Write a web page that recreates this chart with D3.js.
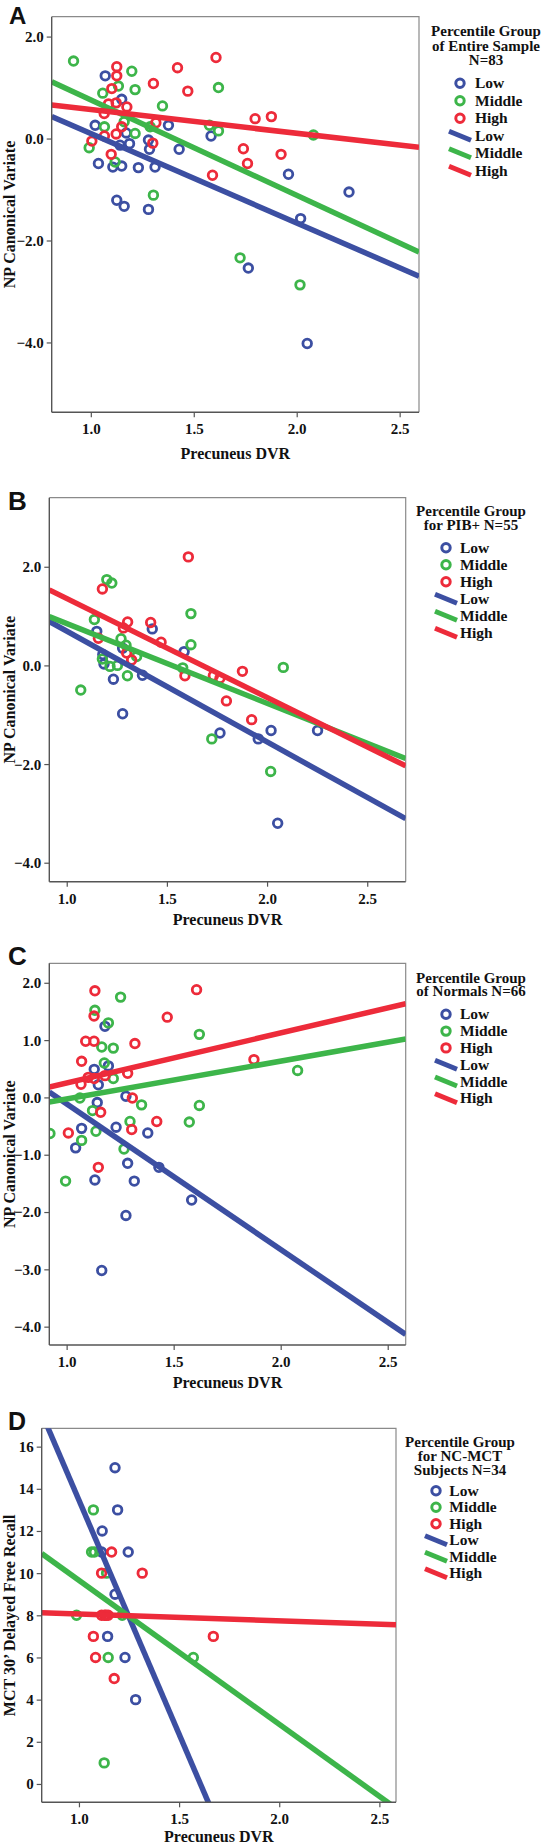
<!DOCTYPE html>
<html><head><meta charset="utf-8">
<script src="https://cdn.jsdelivr.net/npm/d3@7"></script>
<style>
body{margin:0;background:#fff}
svg{display:block}
text{font-family:"Liberation Serif",serif;font-weight:bold;fill:#111}
</style>
</head><body>
<svg id="chart" width="545" height="1846"></svg>
<script>
const groups = ["Low","Middle","High"];
const colors = ["#3c4fa2","#3db54a","#ed2b3a"];
const xTicks = [1.0,1.5,2.0,2.5];

// ---------- Panel A : Entire sample ----------
const aLow = [[1.07,1.23],[1.15,0.77],[1.021,0.26],[1.037,-0.49],[1.107,-0.56],[1.15,-0.54],[1.126,-1.21],[1.162,-1.33],[1.231,-0.57],[1.28,-1.39],[1.312,-0.56],[1.28,-0.03],[1.285,-0.21],[1.188,-0.10],[1.142,-0.13],[1.377,0.26],[1.429,-0.21],[1.584,0.05],[1.96,-0.70],[2.254,-1.05],[2.019,-1.57],[1.765,-2.54],[2.051,-4.02],[1.172,0.11]];
const aMid = [[0.916,1.52],[1.199,1.32],[1.215,0.96],[1.058,0.89],[1.134,1.03],[1.348,0.64],[1.066,0.23],[0.992,-0.18],[1.118,-0.46],[1.215,0.10],[1.162,0.33],[1.304,-1.11],[1.576,0.26],[1.62,0.15],[1.62,1.0],[2.081,0.07],[1.725,-2.34],[2.016,-2.87],[1.288,0.23]];
const aHigh = [[1.126,1.41],[1.126,1.23],[1.102,0.98],[1.304,1.08],[1.421,1.39],[1.608,1.59],[1.471,0.93],[1.086,0.68],[1.123,0.70],[1.175,0.62],[1.065,0.49],[1.15,0.23],[1.123,0.09],[1.066,0.05],[1.005,-0.05],[1.099,-0.31],[1.301,-0.09],[1.316,0.31],[1.591,-0.72],[1.741,-0.20],[1.761,-0.49],[1.798,0.39],[1.877,0.43],[1.924,-0.31]];
const aFits = [[1.851,-1.754],[2.632,-1.873],[1.033,-0.465]]; // [intercept, slope]
const aYTicks = [2,0,-2,-4];

// ---------- Panel B : PIB+ ----------
const bLow = [[1.15,0.69],[1.427,0.74],[1.586,0.28],[1.279,0.35],[1.18,0.22],[1.186,0.03],[1.233,-0.28],[1.378,-0.20],[1.279,-0.98],[1.765,-1.37],[1.956,-1.49],[2.02,-1.32],[2.252,-1.32],[2.053,-3.20]];
const bMid = [[1.2,1.74],[1.225,1.67],[1.138,0.93],[1.62,1.05],[1.62,0.42],[1.271,0.54],[1.296,0.41],[1.349,0.18],[1.178,0.13],[1.216,-0.02],[1.253,0.0],[1.303,-0.21],[1.07,-0.50],[1.579,-0.05],[2.081,-0.04],[1.724,-1.49],[2.018,-2.15]];
const bHigh = [[1.607,2.20],[1.178,1.55],[1.304,0.88],[1.419,0.87],[1.283,0.76],[1.471,0.47],[1.158,0.55],[1.299,0.25],[1.324,0.11],[1.59,-0.21],[1.732,-0.21],[1.765,-0.26],[1.877,-0.12],[1.797,-0.72],[1.923,-1.10]];
const bFits = [[2.942,-2.247],[2.466,-1.617],[3.361,-2.005]];
const bYTicks = [2,0,-2,-4];

// ---------- Panel C : Normals ----------
const cLow = [[1.179,1.24],[1.129,0.49],[1.195,0.55],[1.148,0.22],[1.277,0.02],[1.143,-0.09],[1.07,-0.54],[1.231,-0.52],[1.379,-0.62],[1.042,-0.88],[1.285,-1.15],[1.132,-1.44],[1.316,-1.46],[1.431,-1.22],[1.584,-1.79],[1.277,-2.06],[1.164,-3.02]];
const cMid = [[1.252,1.75],[1.132,1.52],[1.195,1.30],[1.62,1.10],[1.164,0.88],[1.218,0.86],[1.176,0.60],[1.218,0.33],[1.062,-0.01],[1.35,-0.13],[1.62,-0.14],[1.121,-0.23],[1.296,-0.42],[1.573,-0.43],[1.137,-0.59],[1.07,-0.75],[0.922,-0.63],[2.079,0.47],[1.268,-0.90],[0.995,-1.46]];
const cHigh = [[1.132,1.86],[1.607,1.88],[1.128,1.42],[1.47,1.40],[1.089,0.98],[1.128,0.98],[1.319,0.94],[1.07,0.63],[1.875,0.66],[1.101,0.35],[1.129,0.33],[1.067,0.23],[1.179,0.38],[1.285,0.42],[1.307,-0.01],[1.159,-0.26],[1.421,-0.42],[1.304,-0.56],[1.008,-0.62],[1.148,-1.22]];
const cFits = [[2.427,-2.54],[-0.687,0.66],[-0.623,0.874]];
const cYTicks = [2,1,0,-1,-2,-3,-4];

// ---------- Panel D : NC-MCT ----------
const dLow = [[1.18,15],[1.193,13],[1.116,12],[1.113,11],[1.246,11],[1.18,9],[1.143,7],[1.23,6],[1.283,4]];
const dMid = [[1.072,13],[1.063,11],[1.077,11],[1.138,10],[0.988,8],[1.216,8],[1.146,6],[1.571,6],[1.126,1]];
const dHigh = [[1.163,11],[1.113,10],[1.316,10],[1.113,8],[1.128,8],[1.135,8],[1.146,8],[1.072,7],[1.671,7],[1.083,6],[1.176,5]];
const dFits = [[35.65,-22.19],[16.49,-6.83],[8.38,-0.32]];
const dYTicks = [0,2,4,6,8,10,12,14,16];

const panels = [
  {id:"A", letter:"A", lx:9, ly:24, lsize:24, left:51.7, top:16.7, right:419, bottom:412.3,
   xdom:[0.81,2.594], ydom:[-5.37,2.39], yticks:aYTicks, fmt:d3.format(".1f"),
   series:[aLow,aMid,aHigh], fits:aFits, xTitleY:459, yTitle:"NP Canonical Variate", yTitleX:14.5,
   legTitle:["Percentile Group","of Entire Sample","N=83"], legCx:486, legTitleY:36, legTitleDy:14.5,
   symX:460, textX:475, itemY:88.3, itemDy:17.5},
  {id:"B", letter:"B", lx:8, ly:510, lsize:26, left:49.3, top:497.7, right:405.7, bottom:881.7,
   xdom:[0.913,2.692], ydom:[-4.385,3.4], yticks:bYTicks, fmt:d3.format(".1f"),
   series:[bLow,bMid,bHigh], fits:bFits, xTitleY:925, yTitle:"NP Canonical Variate", yTitleX:14.5,
   legTitle:["Percentile Group","for PIB+ N=55"], legCx:471, legTitleY:516, legTitleDy:14,
   symX:446, textX:460, itemY:552.7, itemDy:17},
  {id:"C", letter:"C", lx:8, ly:965, lsize:26, left:49.3, top:963.3, right:405.7, bottom:1345,
   xdom:[0.919,2.584], ydom:[-4.32,2.34], yticks:cYTicks, fmt:d3.format(".1f"),
   series:[cLow,cMid,cHigh], fits:cFits, xTitleY:1388, yTitle:"NP Canonical Variate", yTitleX:14.5,
   legTitle:["Percentile Group","of Normals N=66"], legCx:471, legTitleY:983.3, legTitleDy:13,
   symX:446, textX:460, itemY:1019.3, itemDy:16.8},
  {id:"D", letter:"D", lx:8, ly:1430, lsize:25, left:41.7, top:1428.3, right:396, bottom:1802.3,
   xdom:[0.814,2.583], ydom:[-0.87,16.87], yticks:dYTicks, fmt:d3.format("d"),
   series:[dLow,dMid,dHigh], fits:dFits, xTitleY:1841.5, yTitle:"MCT 30\u2019 Delayed Free Recall", yTitleX:14.5,
   legTitle:["Percentile Group","for NC-MCT","Subjects N=34"], legCx:460, legTitleY:1446.7, legTitleDy:14,
   symX:436, textX:449.3, itemY:1495.7, itemDy:16.5}
];

const svg = d3.select("#chart");
const defs = svg.append("defs");

panels.forEach(p => {
  const x = d3.scaleLinear().domain(p.xdom).range([p.left, p.right]);
  const y = d3.scaleLinear().domain(p.ydom).range([p.bottom, p.top]);
  const g = svg.append("g");

  defs.append("clipPath").attr("id","clip"+p.id).append("rect")
    .attr("x",p.left).attr("y",p.top).attr("width",p.right-p.left).attr("height",p.bottom-p.top);

  // frame top/right
  g.append("path").attr("d",`M${p.left},${p.top}H${p.right}V${p.bottom}`)
    .attr("fill","none").attr("stroke","#8a8a8a").attr("stroke-width",1.2);

  // points
  const pg = g.append("g").attr("clip-path",`url(#clip${p.id})`);
  p.series.forEach((s,i) => {
    pg.selectAll(null).data(s).enter().append("circle")
      .attr("cx",d=>x(d[0])).attr("cy",d=>y(d[1])).attr("r",4.3)
      .attr("fill","none").attr("stroke",colors[i]).attr("stroke-width",2.8);
  });
  // fit lines
  p.fits.forEach((f,i) => {
    const xs = p.xdom;
    pg.append("line")
      .attr("x1",x(xs[0])).attr("y1",y(f[0]+f[1]*xs[0]))
      .attr("x2",x(xs[1])).attr("y2",y(f[0]+f[1]*xs[1]))
      .attr("stroke",colors[i]).attr("stroke-width",5.5);
  });

  // axes
  const xa = g.append("g").attr("transform",`translate(0,${p.bottom})`)
    .call(d3.axisBottom(x).tickValues(xTicks).tickFormat(d3.format(".1f")).tickSize(5).tickPadding(4));
  const ya = g.append("g").attr("transform",`translate(${p.left},0)`)
    .call(d3.axisLeft(y).tickValues(p.yticks).tickFormat(p.fmt).tickSize(5).tickPadding(3));
  [xa,ya].forEach(a => {
    a.select(".domain").attr("stroke","#555").attr("stroke-width",1.4);
    a.selectAll(".tick line").attr("stroke","#555").attr("stroke-width",1.2);
    a.selectAll(".tick text").attr("font-family","Liberation Serif").attr("font-weight","bold")
      .attr("font-size",15).attr("fill","#111");
  });
  xa.select(".domain").attr("d",`M${p.left},0H${p.right}`);
  ya.select(".domain").attr("d",`M0,${p.top}V${p.bottom}`);
  xa.selectAll(".tick text").attr("dy",null).attr("y",22);
  ya.selectAll(".tick text").attr("dy","0.33em");

  // axis titles
  g.append("text").attr("x",(p.left+p.right)/2).attr("y",p.xTitleY)
    .attr("text-anchor","middle").attr("font-size",16).text("Precuneus DVR");
  g.append("text").attr("transform",`translate(${p.yTitleX},${(p.top+p.bottom)/2}) rotate(-90)`)
    .attr("text-anchor","middle").attr("font-size",16).text(p.yTitle);

  // panel letter
  g.append("text").attr("x",p.lx).attr("y",p.ly)
    .style("font-family","'Liberation Sans',Arial,sans-serif").attr("font-size",p.lsize).attr("fill","#000")
    .text(p.letter);

  // legend
  p.legTitle.forEach((t,k) => {
    g.append("text").attr("x",p.legCx).attr("y",p.legTitleY+k*p.legTitleDy)
      .attr("text-anchor","middle").attr("font-size",15).text(t);
  });
  groups.forEach((gr,i) => {
    const by = p.itemY + i*p.itemDy;
    g.append("circle").attr("cx",p.symX).attr("cy",by-5).attr("r",4.2)
      .attr("fill","none").attr("stroke",colors[i]).attr("stroke-width",3);
    g.append("text").attr("x",p.textX).attr("y",by).attr("font-size",15.5).text(gr);
  });
  groups.forEach((gr,i) => {
    const by = p.itemY + (i+3)*p.itemDy;
    g.append("line").attr("x1",p.symX-11).attr("y1",by-9.5).attr("x2",p.symX+11).attr("y2",by-0.5)
      .attr("stroke",colors[i]).attr("stroke-width",5);
    g.append("text").attr("x",p.textX).attr("y",by).attr("font-size",15.5).text(gr);
  });
});
</script>
</body></html>
